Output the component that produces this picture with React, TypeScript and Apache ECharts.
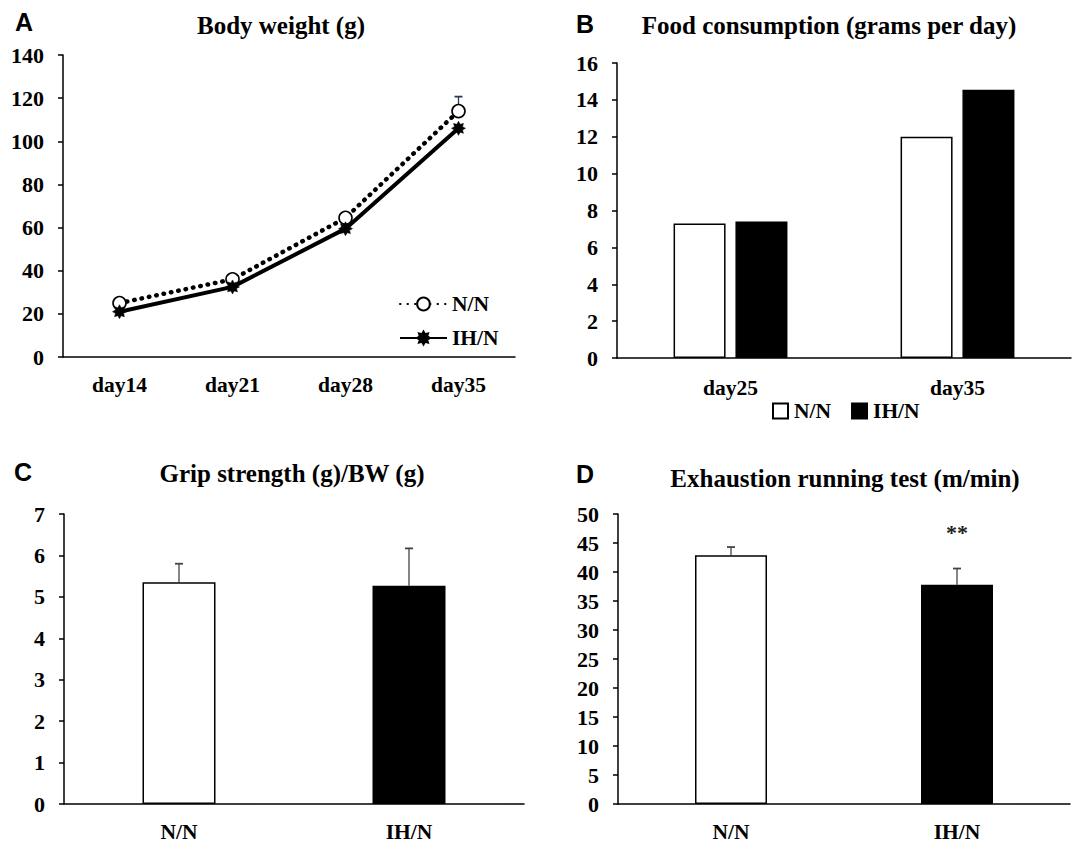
import React, { useEffect, useRef } from "react";
import * as echarts from "echarts";

// ---- Data ----
const bwDays = ["day14", "day21", "day28", "day35"];
const bwNN = [25, 36, 64.5, 114];
const bwIH = [21, 32.5, 59.5, 106];
const bwNNErr = [0, 0, 0, 6.7];

const foodDays = ["day25", "day35"];
const foodNN = [7.3, 12.0];
const foodIH = [7.4, 14.55];

const groups = ["N/N", "IH/N"];
const grip = [5.35, 5.27];
const gripErr = [0.45, 0.9];
const run = [42.9, 37.8];
const runErr = [1.4, 2.8];
const runSig = ["", "**"];

const titles = [
  "Body weight (g)",
  "Food consumption (grams per day)",
  "Grip strength (g)/BW (g)",
  "Exhaustion running test (m/min)",
];
const letters = ["A", "B", "C", "D"];

const SERIF = "Liberation Serif";
const SANS = "Liberation Sans";

function starPath(n: number, r1: number, r2: number) {
  const pts: string[] = [];
  for (let i = 0; i < n * 2; i++) {
    const r = i % 2 === 0 ? r1 : r2;
    const a = (Math.PI * i) / n - Math.PI / 2;
    pts.push(`${(r * Math.cos(a)).toFixed(3)} ${(r * Math.sin(a)).toFixed(3)}`);
  }
  return "path://M" + pts.join(" L") + " Z";
}

const labelStyle = (size: number) => ({
  color: "#000",
  fontFamily: SERIF,
  fontWeight: "bold" as const,
  fontSize: size,
});

function yAxis(gridIndex: number, max: number, interval: number) {
  return {
    type: "value",
    gridIndex,
    min: 0,
    max,
    interval,
    splitLine: { show: false },
    axisLine: { show: true, lineStyle: { color: "#000", width: 1.5 } },
    axisTick: { show: true, length: 5, lineStyle: { color: "#000", width: 1.5 } },
    axisLabel: { ...labelStyle(22), margin: 19 },
  };
}

function xAxis(gridIndex: number, data: string[], margin: number) {
  return {
    type: "category",
    gridIndex,
    data,
    axisLine: { show: true, lineStyle: { color: "#000", width: 1.5 } },
    axisTick: { show: false },
    axisLabel: { ...labelStyle(21.5), margin },
  };
}

function errSeries(
  idx: number,
  vals: number[],
  errs: number[],
  color: string,
  sig?: string[]
) {
  return {
    type: "custom",
    xAxisIndex: idx,
    yAxisIndex: idx,
    z: 1,
    silent: true,
    data: vals.map((v, i) => [i, v, errs[i]]),
    encode: { x: 0, y: 1 },
    renderItem: (params: any, api: any) => {
      const i = api.value(0);
      const v = api.value(1);
      const e = api.value(2);
      const base = api.coord([i, v]);
      const top = api.coord([i, v + e]);
      const children: any[] = [];
      if (e > 0) {
        children.push({
          type: "line",
          shape: { x1: base[0], y1: base[1], x2: top[0], y2: top[1] },
          style: { stroke: color, lineWidth: 1.3 },
        });
        children.push({
          type: "line",
          shape: { x1: top[0] - 4, y1: top[1], x2: top[0] + 4, y2: top[1] },
          style: { stroke: color, lineWidth: 1.8 },
        });
      }
      const s = sig ? sig[params.dataIndex] : "";
      if (s) {
        children.push({
          type: "text",
          x: top[0],
          y: top[1] - 36,
          style: {
            text: s,
            align: "center",
            verticalAlign: "middle",
            fontFamily: SERIF,
            fontWeight: "bold",
            fontSize: 22,
            fill: "#222",
          },
        });
      }
      return { type: "group", children };
    },
  };
}

function textG(text: string, x: number, y: number, family: string, size: number) {
  return {
    type: "text",
    x,
    y,
    style: {
      text,
      align: "center",
      verticalAlign: "middle",
      fontFamily: family,
      fontWeight: "bold",
      fontSize: size,
      fill: "#000",
    },
  };
}

export default function App() {
  const ref = useRef<HTMLDivElement>(null);
  useEffect(() => {
    if (!ref.current) return;
    const chart = echarts.init(ref.current, undefined, { renderer: "svg" });
    const star = starPath(8, 1, 0.62);
    const option: any = {
      animation: false,
      backgroundColor: "#fff",
      grid: [
        { left: 63, top: 55, width: 452, height: 302 },
        { left: 617, top: 63, width: 454, height: 295 },
        { left: 64, top: 514, width: 460, height: 292 },
        { left: 618, top: 514, width: 452, height: 292 },
      ],
      xAxis: [
        xAxis(0, bwDays, 17),
        xAxis(1, foodDays, 19),
        xAxis(2, groups, 17),
        xAxis(3, groups, 17),
      ],
      yAxis: [yAxis(0, 140, 20), yAxis(1, 16, 2), yAxis(2, 7, 1), yAxis(3, 50, 5)],
      legend: [
        {
          orient: "vertical",
          left: 399,
          top: 293,
          padding: 0,
          itemWidth: 47,
          itemHeight: 16,
          itemGap: 12,
          data: ["N/N", "IH/N"],
          textStyle: { ...labelStyle(21.5), padding: [0, 0, 0, 0] },
        },
        {
          orient: "horizontal",
          left: 772,
          top: 400,
          padding: 0,
          itemWidth: 15,
          itemHeight: 15,
          itemGap: 20,
          icon: "rect",
          data: ["food N/N", "food IH/N"],
          formatter: (n: string) => n.replace("food ", ""),
          textStyle: { ...labelStyle(21.5), padding: [0, 0, 0, 1] },
        },
      ],
      series: [
        errSeries(0, bwNN, bwNNErr, "#2b3a55"),
        {
          name: "N/N",
          type: "line",
          xAxisIndex: 0,
          yAxisIndex: 0,
          z: 3,
          data: bwNN,
          symbol: "circle",
          symbolSize: 13,
          itemStyle: { color: "#fff", borderColor: "#000", borderWidth: 1.6 },
          lineStyle: { color: "#000", width: 4.5, type: [0.5, 7], cap: "round" },
        },
        {
          name: "IH/N",
          type: "line",
          xAxisIndex: 0,
          yAxisIndex: 0,
          z: 4,
          data: bwIH,
          symbol: star,
          symbolSize: 14,
          itemStyle: { color: "#000", borderColor: "#000", borderWidth: 0.5 },
          lineStyle: { color: "#000", width: 4 },
        },
        {
          name: "food N/N",
          type: "bar",
          xAxisIndex: 1,
          yAxisIndex: 1,
          data: foodNN,
          barWidth: 52,
          barGap: "19%",
          itemStyle: { color: "#fff", borderColor: "#000", borderWidth: 1.5 },
        },
        {
          name: "food IH/N",
          type: "bar",
          xAxisIndex: 1,
          yAxisIndex: 1,
          data: foodIH,
          barWidth: 52,
          barGap: "19%",
          itemStyle: { color: "#000", borderColor: "#000", borderWidth: 1.5 },
        },
        {
          name: "grip",
          type: "bar",
          xAxisIndex: 2,
          yAxisIndex: 2,
          z: 2,
          barWidth: 73,
          data: grip.map((v, i) => ({
            value: v,
            itemStyle: {
              color: i === 0 ? "#fff" : "#000",
              borderColor: "#000",
              borderWidth: 1.5,
            },
          })),
        },
        errSeries(2, grip, gripErr, "#444"),
        {
          name: "run",
          type: "bar",
          xAxisIndex: 3,
          yAxisIndex: 3,
          z: 2,
          barWidth: 72,
          data: run.map((v, i) => ({
            value: v,
            itemStyle: {
              color: i === 0 ? "#fff" : "#000",
              borderColor: "#000",
              borderWidth: 1.5,
            },
          })),
        },
        errSeries(3, run, runErr, "#444", runSig),
      ],
      graphic: [
        textG(titles[0], 281, 25, SERIF, 25),
        textG(titles[1], 829, 25, SERIF, 25),
        textG(titles[2], 292, 473, SERIF, 25),
        textG(titles[3], 845, 478, SERIF, 25),
        textG(letters[0], 24, 22, SANS, 25),
        textG(letters[1], 585, 24, SANS, 25),
        textG(letters[2], 23, 472, SANS, 25),
        textG(letters[3], 585, 474, SANS, 25),
      ],
    };
    chart.setOption(option);
    return () => chart.dispose();
  }, []);
  return (
    <div
      ref={ref}
      style={{ position: "absolute", left: 0, top: 0, width: 1076, height: 843, background: "#fff" }}
    />
  );
}
